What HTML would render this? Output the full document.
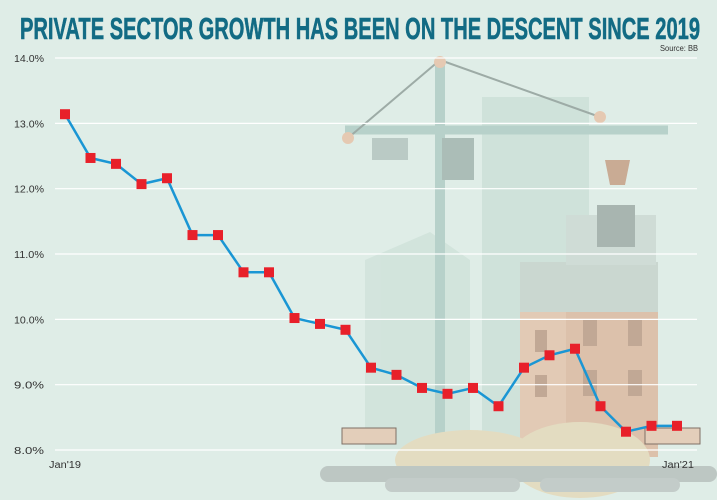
<!DOCTYPE html>
<html><head><meta charset="utf-8"><style>
body{margin:0;width:717px;height:500px;overflow:hidden;background:#dfede7;}
svg{display:block;font-family:"Liberation Sans",sans-serif;}
</style></head><body>
<svg width="717" height="500" viewBox="0 0 717 500">
<rect width="717" height="500" fill="#dfede7"/>
<g opacity="0.95">
<rect x="482" y="97" width="107" height="360" fill="#cfe2da"/>
<path d="M365 260 L430 232 L470 260 L470 450 L365 450Z" fill="#d2e4dc"/>
<rect x="520" y="262" width="138" height="190" fill="#c9d6cf"/>
<rect x="566" y="215" width="90" height="50" fill="#cfdcd6"/>
<rect x="520" y="312" width="138" height="145" fill="#e3c9b3"/>
<rect x="566" y="312" width="92" height="145" fill="#dcbfa8"/>
<g fill="#c0a591"><rect x="535" y="330" width="12" height="22"/><rect x="583" y="320" width="14" height="26"/><rect x="628" y="320" width="14" height="26"/><rect x="583" y="370" width="14" height="26"/><rect x="628" y="370" width="14" height="26"/><rect x="535" y="375" width="12" height="22"/></g>
<line x1="440" y1="60" x2="440" y2="450" stroke="#b5d0c9" stroke-width="10"/>
<line x1="345" y1="130" x2="668" y2="130" stroke="#b5d0c9" stroke-width="9"/>
<line x1="348" y1="138" x2="440" y2="60" stroke="#9aa8a3" stroke-width="2"/>
<line x1="440" y1="60" x2="600" y2="117" stroke="#9aa8a3" stroke-width="2"/>
<circle cx="440" cy="62" r="6" fill="#e6c8b0"/><circle cx="348" cy="138" r="6" fill="#e6c8b0"/><circle cx="600" cy="117" r="6" fill="#e6c8b0"/>
<rect x="372" y="138" width="36" height="22" fill="#b9c9c4"/>
<rect x="442" y="138" width="32" height="42" fill="#a9bbb5"/>
<rect x="597" y="205" width="38" height="42" fill="#a6b3ae"/>
<path d="M605 160 L630 160 L625 185 L610 185Z" fill="#c8a890"/>
<ellipse cx="470" cy="460" rx="75" ry="30" fill="#e4dcc0"/>
<ellipse cx="580" cy="460" rx="70" ry="38" fill="#e4dcc0"/>
<rect x="320" y="466" width="397" height="16" rx="8" fill="#bcc5c2"/>
<rect x="385" y="478" width="135" height="14" rx="7" fill="#c2cbc8"/>
<rect x="540" y="478" width="140" height="14" rx="7" fill="#c2cbc8"/>
<rect x="342" y="428" width="54" height="16" fill="#e4cdb8" stroke="#7a6a60"/>
<rect x="645" y="428" width="55" height="16" fill="#e4cdb8" stroke="#7a6a60"/>
</g>
<text x="360" y="39" text-anchor="middle" font-size="31" font-weight="bold" fill="#126b84" stroke="#126b84" stroke-width="0.6" textLength="680" lengthAdjust="spacingAndGlyphs">PRIVATE SECTOR GROWTH HAS BEEN ON THE DESCENT SINCE 2019</text>
<text x="698" y="51" text-anchor="end" font-size="8" fill="#333" textLength="38" lengthAdjust="spacingAndGlyphs">Source: BB</text>
<g id="grid"></g>
<g id="ylabels"></g>
<g id="series"></g>
<text x="49" y="468" font-size="10" fill="#333" textLength="32" lengthAdjust="spacingAndGlyphs">Jan'19</text>
<text x="662" y="468" font-size="10" fill="#333" textLength="32" lengthAdjust="spacingAndGlyphs">Jan'21</text>
</svg>
<script>
const months = ["Jan'19","Feb'19","Mar'19","Apr'19","May'19","Jun'19","Jul'19","Aug'19","Sep'19","Oct'19","Nov'19","Dec'19","Jan'20","Feb'20","Mar'20","Apr'20","May'20","Jun'20","Jul'20","Aug'20","Sep'20","Oct'20","Nov'20","Dec'20","Jan'21"];
const growth = [13.14,12.47,12.38,12.07,12.16,11.29,11.29,10.72,10.72,10.02,9.93,9.84,9.26,9.15,8.95,8.86,8.95,8.67,9.26,9.45,9.55,8.67,8.28,8.37,8.37];
const yTicks = [8,9,10,11,12,13,14];
const NS="http://www.w3.org/2000/svg";
const yS = v => 450 - (v-8)*65.33;
const xS = i => 65 + i*(677-65)/(months.length-1);
const grid=document.getElementById('grid'), yl=document.getElementById('ylabels'), se=document.getElementById('series');
yTicks.forEach(t=>{
  const l=document.createElementNS(NS,'line');
  l.setAttribute('x1',55);l.setAttribute('x2',697);l.setAttribute('y1',yS(t));l.setAttribute('y2',yS(t));
  l.setAttribute('stroke','#ffffff');l.setAttribute('stroke-width','1.2');
  
  
  grid.appendChild(l);
  const tx=document.createElementNS(NS,'text');
  tx.setAttribute('x',14);tx.setAttribute('y',yS(t)+4);tx.setAttribute('font-size','10');tx.setAttribute('fill','#333');
  tx.setAttribute('textLength','30');tx.setAttribute('lengthAdjust','spacingAndGlyphs');
  tx.textContent=t.toFixed(1)+'%';
  
  
  yl.appendChild(tx);
});
const pl=document.createElementNS(NS,'polyline');
pl.setAttribute('points',growth.map((v,i)=>xS(i)+','+yS(v)).join(' '));
pl.setAttribute('fill','none');pl.setAttribute('stroke','#1a96d4');pl.setAttribute('stroke-width','2.5');


se.appendChild(pl);
growth.forEach((v,i)=>{
  const r=document.createElementNS(NS,'rect');
  r.setAttribute('x',xS(i)-5);r.setAttribute('y',yS(v)-5);r.setAttribute('width',10);r.setAttribute('height',10);
  r.setAttribute('fill','#e8202a');
  
  
  se.appendChild(r);
});
</script>
</body></html>
